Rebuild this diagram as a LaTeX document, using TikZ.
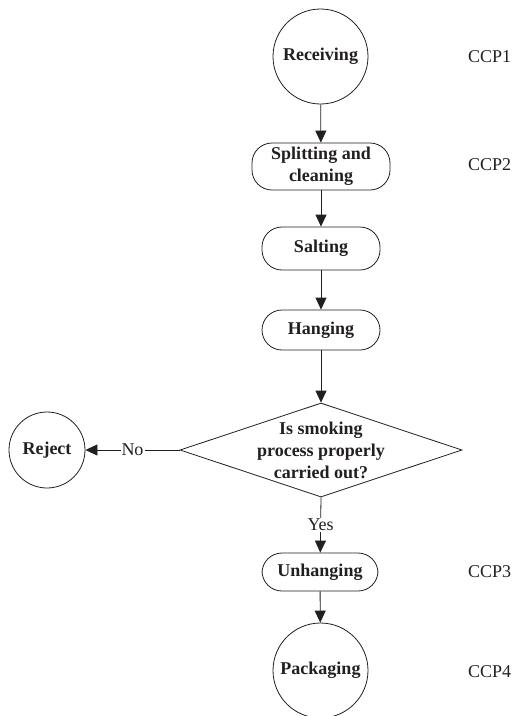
\documentclass[tikz,border=0pt]{standalone}
\usepackage{fontspec}
\setmainfont{Liberation Serif}
\usepackage{tikz}
\usetikzlibrary{shapes.geometric, arrows.meta, positioning}
\definecolor{myink}{RGB}{35,31,32}
\tikzset{
  stagecircle/.style={circle, draw=myink, text=myink, inner sep=0pt,
    font=\fontsize{18}{22}\selectfont\bfseries, line width=0.8pt},
  stagebox/.style={rectangle, draw=myink, text=myink, align=center,
    inner sep=0pt, rounded corners=20pt,
    font=\fontsize{18}{22}\selectfont\bfseries, line width=0.8pt},
  decision/.style={diamond, draw=myink, inner sep=0pt, line width=0.8pt},
  ccplabel/.style={anchor=west, text=myink, inner sep=0pt,
    font=\fontsize{18}{22}\selectfont},
  flowlabel/.style={fill=white, text=myink, inner sep=1pt,
    font=\fontsize{18}{22}\selectfont},
  arrow/.style={-{Triangle[length=12pt,width=11pt]}, line width=0.8pt, color=myink}
}

\begin{document}
\begin{tikzpicture}[x=1pt, y=1pt]
  \useasboundingbox (0,0) rectangle (513,-716);

  % Process steps
  \node[stagecircle, minimum size=95pt] (receiving) at (320.5,-56.5) {Receiving};
  \node[stagebox, minimum width=138pt, minimum height=47pt] (splitting) at (321,-166.5) {Splitting and\\cleaning};
  \node[stagebox, minimum width=118pt, minimum height=43pt] (salting) at (321,-248.5) {Salting};
  \node[stagebox, minimum width=118pt, minimum height=40pt] (hanging) at (321,-330) {Hanging};

  % Smoking check
  \node[decision, minimum width=282pt, minimum height=94pt,
    label={[align=center, text=myink, font=\fontsize{18}{22}\selectfont\bfseries]center:Is smoking\\process properly\\carried out?}] (smoking) at (321,-450) {};
  \node[stagecircle, minimum size=76pt] (reject) at (47,-450) {Reject};

  \node[stagebox, minimum width=116pt, minimum height=38pt] (unhanging) at (320,-572) {Unhanging};
  \node[stagecircle, minimum size=95pt] (packaging) at (320.5,-670.5) {Packaging};

  % Critical control points
  \node[ccplabel] (ccp1) at (468,-57) {CCP1};
  \node[ccplabel] (ccp2) at (468,-165) {CCP2};
  \node[ccplabel] (ccp3) at (468,-572) {CCP3};
  \node[ccplabel] (ccp4) at (468,-672) {CCP4};

  % Flow
  \draw[arrow] (receiving) -- (splitting);
  \draw[arrow] (splitting) -- (salting);
  \draw[arrow] (salting) -- (hanging);
  \draw[arrow] (hanging) -- (smoking.north);
  \draw[arrow] (smoking.west) -- (reject) node[midway, flowlabel] {No};
  \draw[arrow] (smoking.south) -- (unhanging) node[midway, flowlabel] {Yes};
  \draw[arrow] (unhanging) -- (packaging);
\end{tikzpicture}
\end{document}
